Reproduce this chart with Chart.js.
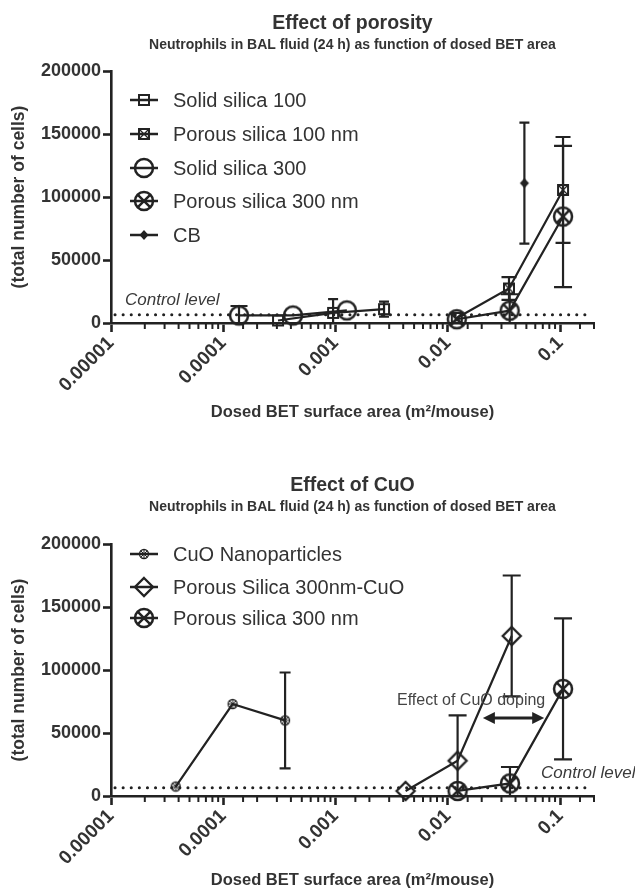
<!DOCTYPE html>
<html><head><meta charset="utf-8">
<script src="https://cdn.jsdelivr.net/npm/chart.js@4"></script>
<style>
body{margin:0;background:#fff;width:635px;height:892px;overflow:hidden}
canvas{display:block}
</style>
</head><body>
<canvas id="c1" width="635" height="446"></canvas>
<canvas id="c2" width="635" height="446"></canvas>
<script>
// ---------------- DATA ----------------
const xTickLabels = ['0.00001', '0.0001', '0.001', '0.01', '0.1'];
const yTickValues = [0, 50000, 100000, 150000, 200000];
const controlLevel = 6500;

// Chart 1: Effect of porosity
const solid100X = [3.07e-4, 9.5e-4, 2.7e-3];
const solid100Y = [2000, 8000, 11000];
const solid100Err = [0, 11000, 6000];

const porous100X = [0.012, 0.035, 0.106];
const porous100Y = [4000, 27400, 105600];
const porous100Err = [0, 9000, 42000];

const solid300X = [1.38e-4, 4.17e-4, 1.26e-3];
const solid300Y = [6000, 6000, 10000];
const solid300Err = [7500, 0, 0];

const porous300X = [0.012, 0.0355, 0.106];
const porous300Y = [3000, 9800, 84500];
const porous300Err = [0, 13000, 56000];

const cbX = [0.048];
const cbY = [111000];
const cbErr = [48000];

// Chart 2: Effect of CuO
const cuoX = [3.77e-5, 1.21e-4, 3.55e-4];
const cuoY = [7500, 73000, 60000];
const cuoErr = [0, 0, 38000];

const porousCuoX = [0.0042, 0.0122, 0.037];
const porousCuoY = [4000, 28000, 127000];
const porousCuoErr = [0, 36000, 48000];

const porous300bX = [0.0122, 0.0357, 0.106];
const porous300bY = [4000, 10000, 85000];
const porous300bErr = [0, 13000, 56000];

// ---------------- STYLE HELPERS ----------------
const FONT = '"Liberation Sans", Arial, Helvetica, sans-serif';
const INK = '#222';
const TXT = '#333';
Chart.defaults.font.family = FONT;

function drawMarker(g, type) {
  g.strokeStyle = INK; g.fillStyle = INK; g.lineWidth = 2;
  const X = (r, lw) => { g.beginPath(); g.moveTo(-r,-r); g.lineTo(r,r); g.moveTo(r,-r); g.lineTo(-r,r); g.lineWidth = lw; g.stroke(); };
  switch (type) {
    case 'square': g.lineWidth = 2; g.strokeRect(-5,-5,10,10); break;
    case 'squareX': g.lineWidth = 2; g.strokeRect(-5,-5,10,10); X(5, 1.3); break;
    case 'circle': g.lineWidth = 2.5; g.beginPath(); g.arc(0,0,9,0,Math.PI*2); g.stroke(); break;
    case 'circleX': g.lineWidth = 2.5; g.beginPath(); g.arc(0,0,9,0,Math.PI*2); g.stroke(); X(6.4, 2.5); break;
    case 'diamondFill': g.beginPath(); g.moveTo(0,-5); g.lineTo(4.5,0); g.lineTo(0,5); g.lineTo(-4.5,0); g.closePath(); g.fill(); break;
    case 'diamond': g.lineWidth = 2.3; g.beginPath(); g.moveTo(0,-9); g.lineTo(9,0); g.lineTo(0,9); g.lineTo(-9,0); g.closePath(); g.stroke(); break;
    case 'cuo':
      g.lineWidth = 1.3; g.beginPath(); g.arc(0,0,4.5,0,Math.PI*2); g.stroke();
      X(3.2, 1); g.beginPath(); g.moveTo(-4.5,0); g.lineTo(4.5,0); g.moveTo(0,-4.5); g.lineTo(0,4.5); g.lineWidth=1; g.stroke();
      break;
  }
}
function makeMarker(type) {
  const s = 26, c = document.createElement('canvas');
  c.width = s; c.height = s;
  const g = c.getContext('2d'); g.translate(s/2, s/2); drawMarker(g, type);
  return c;
}
const toPts = (xs, ys) => xs.map((x, i) => ({x, y: ys[i]}));

function series(label, xs, ys, errs, marker, capW) {
  return {
    label, data: toPts(xs, ys), errors: errs, capW, markerImg: makeMarker(marker),
    borderColor: INK, backgroundColor: INK, borderWidth: 2.2, tension: 0, fill: false,
    pointStyle: makeMarker(marker), pointRadius: 6, pointHoverRadius: 6, clip: false
  };
}

const isPow10 = v => { const e = Math.log10(v); return Math.abs(e - Math.round(e)) < 1e-6; };

// ---------------- PLUGIN ----------------
const decor = {
  id: 'decor',
  beforeDatasetsDraw(chart) {
    const {ctx, scales: {x, y}} = chart;
    ctx.save();
    ctx.strokeStyle = INK; ctx.lineWidth = 2.2;
    chart.data.datasets.forEach(ds => {
      ds.data.forEach((p, i) => {
        const e = ds.errors[i]; if (!e) return;
        const px = x.getPixelForValue(p.x);
        const top = y.getPixelForValue(p.y + e);
        const lowV = p.y - e;
        const bot = y.getPixelForValue(Math.max(0, lowV));
        ctx.beginPath(); ctx.moveTo(px, top); ctx.lineTo(px, bot);
        ctx.moveTo(px - ds.capW/2, top); ctx.lineTo(px + ds.capW/2, top);
        if (lowV > 0) { ctx.moveTo(px - ds.capW/2, bot); ctx.lineTo(px + ds.capW/2, bot); }
        ctx.stroke();
      });
    });
    // control level dotted line
    const cy = y.getPixelForValue(controlLevel);
    ctx.beginPath(); ctx.setLineDash([0.1, 8]); ctx.lineCap = 'round'; ctx.lineWidth = 3;
    ctx.moveTo(chart.chartArea.left + 4, cy); ctx.lineTo(chart.chartArea.right - 2, cy); ctx.stroke();
    ctx.restore();
  },
  afterDraw(chart) {
    const o = chart.options.plugins.decor;
    const {ctx, chartArea: a, scales: {x, y}} = chart;
    const cx = (a.left + a.right) / 2;
    ctx.save();
    // minor ticks
    ctx.strokeStyle = INK; ctx.lineWidth = 2;
    x.ticks.forEach(t => {
      if (isPow10(t.value)) return;
      const px = x.getPixelForValue(t.value);
      ctx.beginPath(); ctx.moveTo(px, a.bottom); ctx.lineTo(px, a.bottom + 6); ctx.stroke();
    });
    // titles
    ctx.fillStyle = TXT; ctx.textAlign = 'center'; ctx.textBaseline = 'middle';
    ctx.font = 'bold 19.5px ' + FONT; ctx.fillText(o.title, cx, o.titleY);
    ctx.font = 'bold 14px ' + FONT; ctx.fillText(o.subtitle, cx, o.titleY + 21);
    // axis titles
    ctx.font = 'bold 16.5px ' + FONT;
    ctx.fillText('Dosed BET surface area (m\u00B2/mouse)', cx, o.xTitleY);
    ctx.save(); ctx.translate(19, (a.top + a.bottom) / 2); ctx.rotate(-Math.PI / 2);
    ctx.font = 'bold 17.5px ' + FONT; ctx.fillText('(total number of cells)', 0, 0); ctx.restore();
    // control level label
    ctx.font = 'italic 17px ' + FONT; ctx.textAlign = 'left'; ctx.fillStyle = '#3a3a3a';
    ctx.fillText('Control level', o.ctrlX, y.getPixelForValue(controlLevel) - 15);
    // legend
    ctx.font = '20px ' + FONT; ctx.fillStyle = '#333';
    chart.data.datasets.forEach((ds, i) => {
      const ly = o.legendY[i];
      ctx.strokeStyle = INK; ctx.lineWidth = 2.5;
      ctx.beginPath(); ctx.moveTo(130, ly); ctx.lineTo(158, ly); ctx.stroke();
      ctx.drawImage(ds.markerImg, 144 - 13, ly - 13);
      ctx.fillText(ds.label, 173, ly + 1);
    });
    // annotation (chart 2)
    if (o.arrow) {
      const ay = y.getPixelForValue(o.arrow.y);
      const x1 = x.getPixelForValue(o.arrow.x1), x2 = x.getPixelForValue(o.arrow.x2);
      ctx.strokeStyle = INK; ctx.fillStyle = INK; ctx.lineWidth = 3;
      ctx.beginPath(); ctx.moveTo(x1 + 8, ay); ctx.lineTo(x2 - 8, ay); ctx.stroke();
      ctx.beginPath(); ctx.moveTo(x1, ay); ctx.lineTo(x1 + 12, ay - 6); ctx.lineTo(x1 + 12, ay + 6); ctx.closePath(); ctx.fill();
      ctx.beginPath(); ctx.moveTo(x2, ay); ctx.lineTo(x2 - 12, ay - 6); ctx.lineTo(x2 - 12, ay + 6); ctx.closePath(); ctx.fill();
      ctx.font = '16px ' + FONT; ctx.fillStyle = '#444'; ctx.textAlign = 'left';
      ctx.fillText('Effect of CuO doping', o.arrow.textX, y.getPixelForValue(o.arrow.textY));
    }
    ctx.restore();
  }
};

function buildChart(id, datasets, cfg) {
  return new Chart(document.getElementById(id), {
    type: 'line',
    data: { datasets },
    plugins: [decor],
    options: {
      responsive: false, animation: false, events: [],
      layout: { padding: { left: 0, right: 41, top: cfg.top, bottom: cfg.bottom } },
      plugins: { legend: { display: false }, tooltip: { enabled: false }, decor: cfg },
      scales: {
        x: {
          type: 'logarithmic', min: 1e-5, max: 0.2,
          border: { display: true, color: INK, width: 2.6 },
          grid: { drawOnChartArea: false, drawTicks: true, tickLength: 9, tickWidth: 2.6,
                  tickColor: c => (c.tick && isPow10(c.tick.value)) ? INK : 'rgba(0,0,0,0)' },
          ticks: { autoSkip: false, minRotation: 45, maxRotation: 45, padding: 0, color: TXT,
                   font: { size: 19, weight: 'bold', family: FONT },
                   callback: v => isPow10(v) ? xTickLabels[Math.round(Math.log10(v)) + 5] : '' },
          afterFit: s => { s.height = 92; }
        },
        y: {
          min: 0, max: 200000,
          afterBuildTicks: s => { s.ticks = yTickValues.map(v => ({ value: v })); },
          border: { display: true, color: INK, width: 2.6 },
          grid: { drawOnChartArea: false, drawTicks: true, tickLength: 8, tickWidth: 2.6, tickColor: INK },
          ticks: { padding: 2, color: TXT, font: { size: 18, weight: 'bold', family: FONT },
                   callback: v => String(v) },
          afterFit: s => { s.width = 111; }
        }
      }
    }
  });
}

buildChart('c1', [
  series('Solid silica 100', solid100X, solid100Y, solid100Err, 'square', 10),
  series('Porous silica 100 nm', porous100X, porous100Y, porous100Err, 'squareX', 15),
  series('Solid silica 300', solid300X, solid300Y, solid300Err, 'circle', 17),
  series('Porous silica 300 nm', porous300X, porous300Y, porous300Err, 'circleX', 18),
  series('CB', cbX, cbY, cbErr, 'diamondFill', 10)
], {
  top: 71, bottom: 31, title: 'Effect of porosity',
  subtitle: 'Neutrophils in BAL fluid (24 h) as function of dosed BET area',
  titleY: 24, xTitleY: 412, ctrlX: 125,
  legendY: [100, 134, 168, 201, 235]
});

buildChart('c2', [
  series('CuO Nanoparticles', cuoX, cuoY, cuoErr, 'cuo', 11),
  series('Porous Silica 300nm-CuO', porousCuoX, porousCuoY, porousCuoErr, 'diamond', 18),
  series('Porous silica 300 nm', porous300bX, porous300bY, porous300bErr, 'circleX', 18)
], {
  top: 98, bottom: 4, title: 'Effect of CuO',
  subtitle: 'Neutrophils in BAL fluid (24 h) as function of dosed BET area',
  titleY: 40, xTitleY: 434, ctrlX: 541,
  legendY: [108, 141, 172],
  arrow: { x1: 0.0205, x2: 0.072, y: 62000, textX: 397, textY: 76000 }
});
</script>
</body></html>
